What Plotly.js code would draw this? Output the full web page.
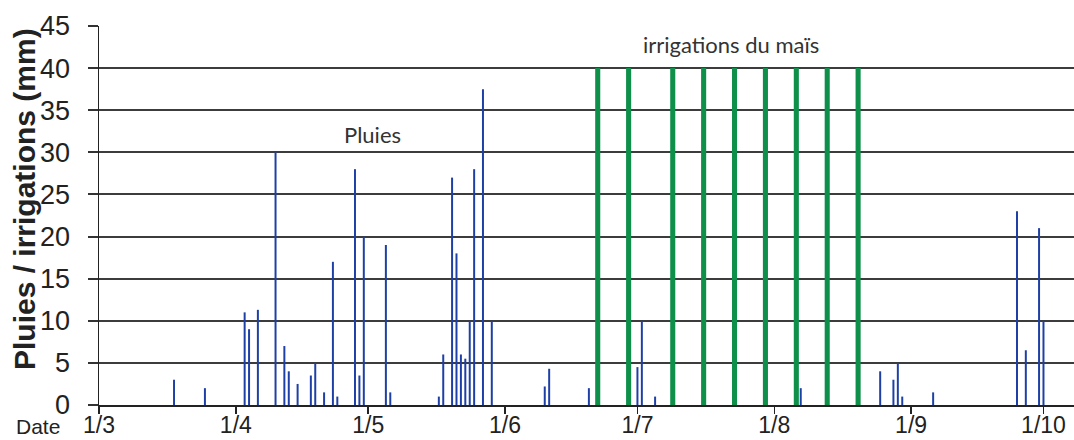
<!DOCTYPE html>
<html>
<head>
<meta charset="utf-8">
<script src="https://cdn.plot.ly/plotly-3.0.1.min.js"></script>
<style>html,body{margin:0;padding:0;background:#fff;}#chart{width:1074px;height:440px;}</style>
</head>
<body>
<div id="chart"></div>
<script>
// Rain events (Pluies), mm
const rainDates = [
  '2013-03-18','2013-03-25',
  '2013-04-03','2013-04-04','2013-04-06','2013-04-10','2013-04-12','2013-04-13','2013-04-15',
  '2013-04-18','2013-04-19','2013-04-21','2013-04-23','2013-04-24','2013-04-28','2013-04-29','2013-04-30',
  '2013-05-05','2013-05-06','2013-05-17','2013-05-18','2013-05-20','2013-05-21','2013-05-22','2013-05-23',
  '2013-05-24','2013-05-25','2013-05-27','2013-05-29',
  '2013-06-10','2013-06-11','2013-06-20',
  '2013-07-01','2013-07-02','2013-07-05',
  '2013-08-07','2013-08-25','2013-08-28','2013-08-29','2013-08-30',
  '2013-09-06','2013-09-25','2013-09-27','2013-09-30','2013-10-01'
];
const rainValues = [
  3, 2,
  11, 9, 11.3, 30, 7, 4, 2.5,
  3.5, 5, 1.5, 17, 1, 28, 3.5, 20,
  19, 1.5, 1, 6, 27, 18, 6, 5.5,
  10, 28, 37.5, 10,
  2.2, 4.3, 2,
  4.5, 10, 1,
  2, 4, 3, 5, 1,
  1.5, 23, 6.5, 21, 10
];
// Maize irrigations, mm
const irrigDates = ['2013-06-22','2013-06-29','2013-07-09','2013-07-16','2013-07-23','2013-07-30','2013-08-06','2013-08-13','2013-08-20'];
const irrigValues = [40, 40, 40, 40, 40, 40, 40, 40, 40];
// Axis ticks
const monthTicks = ['2013-03-01','2013-04-01','2013-05-01','2013-06-01','2013-07-01','2013-08-01','2013-09-01','2013-10-01'];
const monthLabels = ['1/3','1/4','1/5','1/6','1/7','1/8','1/9','1/10'];

const DAY = 86400000;
const axisFont = 'Liberation Sans, Arial, sans-serif';

const traces = [
  {type:'bar', name:'irrigations du maïs', x: irrigDates, y: irrigValues, width: DAY*1.15,
   marker:{color:'#0f904a', line:{width:0}}, hoverinfo:'x+y'},
  {type:'bar', name:'Pluies', x: rainDates, y: rainValues, width: DAY*0.45,
   marker:{color:'#1d3fa6', line:{width:0}}, hoverinfo:'x+y'}
];

const layout = {
  width:1074, height:440,
  margin:{l:99, r:0, t:26, b:35},
  paper_bgcolor:'#ffffff', plot_bgcolor:'#ffffff',
  showlegend:false, barmode:'overlay',
  font:{family:axisFont, color:'#222'},
  xaxis:{
    type:'date', range:['2013-03-01','2013-10-07 22:00'],
    tickmode:'array', tickvals: monthTicks, ticktext: monthLabels,
    ticks:'outside', ticklen:7, tickwidth:1.5, tickcolor:'#222',
    showline:true, linecolor:'#222', linewidth:1.5,
    showgrid:false, zeroline:false,
    tickfont:{family:axisFont, size:23, color:'#222'},
    ticklabelstandoff:-8
  },
  yaxis:{
    range:[0,45], dtick:5, tick0:0,
    ticks:'outside', ticklen:10, tickwidth:2, tickcolor:'#333',
    showline:true, linecolor:'#222', linewidth:1.5,
    showgrid:true, gridcolor:'#3c3c3c', gridwidth:2,
    zeroline:false,
    tickfont:{family:axisFont, size:27, color:'#222'},
    ticklabelstandoff:12,
    automargin:false
  },
  annotations:[
    {xref:'paper', yref:'paper', x:-0.0769, y:0.5435, text:'Pluies / irrigations (mm)', textangle:-90, showarrow:false,
     font:{family:axisFont, size:30, color:'#222', weight:'bold'}, xanchor:'center', yanchor:'middle'},
    {xref:'paper', yref:'paper', x:0.2805, y:0.715, text:'Pluies', showarrow:false,
     font:{family:'Lato, Open Sans, sans-serif', size:22, color:'#333'}, xanchor:'center', yanchor:'middle'},
    {xref:'paper', yref:'paper', x:0.648, y:0.9525, text:'irrigations du maïs', showarrow:false,
     font:{family:'Lato, Open Sans, sans-serif', size:22, color:'#333'}, xanchor:'center', yanchor:'middle'},
    {xref:'paper', yref:'paper', x:-0.0626, y:-0.058, text:'Date', showarrow:false,
     font:{family:axisFont, size:21, color:'#222'}, xanchor:'center', yanchor:'middle'}
  ]
};

Plotly.newPlot('chart', traces, layout, {displayModeBar:false, staticPlot:true});
</script>
</body>
</html>
